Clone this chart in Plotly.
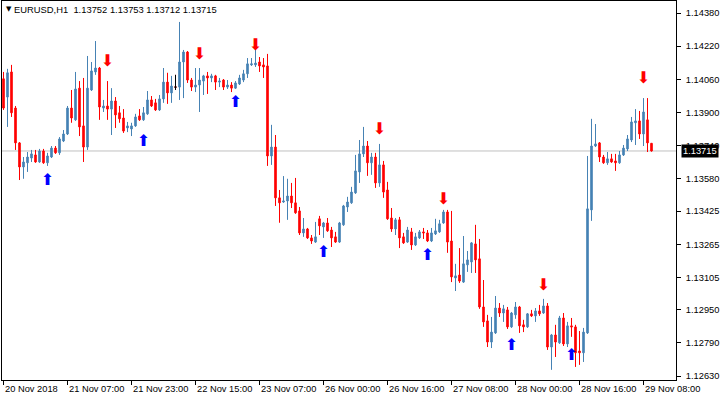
import plotly.graph_objects as go

# ---- data (EURUSD H1) ----
opens = [1.14063,1.13975,1.14096,1.13922,1.13754,1.13638,1.13658,1.13681,1.13696,1.13662,
         1.13715,1.13658,1.13686,1.13729,1.13706,1.13763,1.13797,1.13922,1.13865,1.14018,
         1.13836,1.13734,1.14009,1.14096,1.14115,1.13922,1.13932,1.13917,1.13956,1.13899,
         1.13874,1.13826,1.13821,1.13836,1.13884,1.13865,1.13894,1.13961,1.13947,1.13913,
         1.13966,1.14047,1.13995,1.14023,1.14023,1.14144,1.14192,1.14057,1.14023,1.14033,
         1.14052,1.14077,1.14067,1.14077,1.14047,1.14057,1.14023,1.14033,1.14018,1.14038,
         1.14057,1.14087,1.14130,1.14130,1.14144,1.14130,1.14125,1.13691,1.13734,1.13489,
         1.13469,1.13474,1.13498,1.13465,1.13426,1.13320,1.13339,1.13296,1.13276,1.13388,
         1.13349,1.13368,1.13334,1.13301,1.13276,1.13359,1.13445,1.13465,1.13513,1.13614,
         1.13701,1.13739,1.13658,1.13686,1.13561,1.13648,1.13527,1.13392,1.13339,1.13383,
         1.13301,1.13276,1.13325,1.13262,1.13296,1.13325,1.13320,1.13281,1.13315,1.13325,
         1.13368,1.13421,1.13281,1.13103,1.13117,1.13083,1.13166,1.13180,1.13267,1.13195,
         1.12963,1.12896,1.12794,1.12838,1.12958,1.12934,1.12949,1.12867,1.12925,1.12963,
         1.12877,1.12867,1.12930,1.12920,1.12944,1.12934,1.12968,1.12770,1.12828,1.12790,
         1.12910,1.12785,1.12872,1.12867,1.12751,1.12742,1.12838,1.13431,1.13739,1.13754,
         1.13686,1.13658,1.13677,1.13667,1.13658,1.13696,1.13725,1.13768,1.13851,1.13860,
         1.13797,1.13865,1.13752]
highs = [1.14096,1.14111,1.14130,1.13932,1.13758,1.13686,1.13710,1.13720,1.13720,1.13725,
         1.13725,1.13706,1.13739,1.13739,1.13782,1.13816,1.13932,1.14009,1.14096,1.14052,
         1.14067,1.14173,1.14144,1.14245,1.14120,1.13961,1.14052,1.14018,1.13975,1.13932,
         1.13917,1.13855,1.13851,1.13894,1.13917,1.13927,1.14004,1.13980,1.13966,1.13985,
         1.14115,1.14092,1.14077,1.14082,1.14337,1.14202,1.14197,1.14067,1.14115,1.14115,
         1.14082,1.14096,1.14087,1.14082,1.14067,1.14062,1.14057,1.14047,1.14052,1.14082,
         1.14106,1.14163,1.14163,1.14212,1.14168,1.14163,1.14183,1.13841,1.13792,1.13527,
         1.13594,1.13581,1.13561,1.13585,1.13445,1.13392,1.13344,1.13310,1.13373,1.13402,
         1.13373,1.13392,1.13349,1.13325,1.13373,1.13455,1.13494,1.13542,1.13696,1.13768,
         1.13831,1.13763,1.13706,1.13706,1.13749,1.13667,1.13566,1.13440,1.13392,1.13397,
         1.13320,1.13349,1.13344,1.13320,1.13334,1.13344,1.13334,1.13344,1.13388,1.13383,
         1.13431,1.13431,1.13426,1.13171,1.13247,1.13305,1.13233,1.13276,1.13359,1.13291,
         1.13093,1.12925,1.12915,1.13016,1.12982,1.12973,1.12963,1.12939,1.12987,1.12968,
         1.12901,1.12934,1.12949,1.12958,1.12973,1.13002,1.12982,1.12833,1.12877,1.12920,
         1.12934,1.12891,1.12910,1.12877,1.12847,1.12862,1.13691,1.13870,1.13845,1.13758,
         1.13696,1.13710,1.13701,1.13701,1.13715,1.13744,1.13792,1.13879,1.13917,1.13908,
         1.13970,1.13970,1.13753]
lows = [1.13913,1.13831,1.13879,1.13720,1.13575,1.13581,1.13614,1.13662,1.13658,1.13658,
        1.13653,1.13643,1.13681,1.13701,1.13696,1.13758,1.13792,1.13851,1.13860,1.13787,
        1.13662,1.13720,1.14004,1.14082,1.13865,1.13903,1.13865,1.13792,1.13826,1.13851,
        1.13802,1.13806,1.13787,1.13831,1.13860,1.13860,1.13889,1.13927,1.13908,1.13908,
        1.13947,1.13942,1.13947,1.14009,1.13961,1.13970,1.14043,1.14004,1.13999,1.13903,
        1.13985,1.13990,1.14047,1.14009,1.14023,1.14009,1.14014,1.13999,1.14014,1.14033,
        1.14047,1.14067,1.14125,1.14120,1.14096,1.14067,1.13643,1.13648,1.13450,1.13369,
        1.13465,1.13383,1.13440,1.13412,1.13310,1.13301,1.13291,1.13267,1.13272,1.13310,
        1.13296,1.13325,1.13252,1.13272,1.13272,1.13354,1.13421,1.13460,1.13508,1.13561,
        1.13686,1.13595,1.13600,1.13537,1.13542,1.13489,1.13383,1.13325,1.13310,1.13247,
        1.13267,1.13272,1.13238,1.13257,1.13291,1.13291,1.13276,1.13276,1.13310,1.13320,
        1.13364,1.13224,1.13083,1.13040,1.13079,1.13079,1.13132,1.13127,1.13127,1.12954,
        1.12867,1.12770,1.12765,1.12833,1.12915,1.12891,1.12857,1.12862,1.12906,1.12838,
        1.12842,1.12862,1.12915,1.12891,1.12920,1.12930,1.12756,1.12660,1.12722,1.12785,
        1.12775,1.12770,1.12819,1.12674,1.12684,1.12698,1.12833,1.13378,1.13734,1.13662,
        1.13653,1.13648,1.13658,1.13619,1.13653,1.13691,1.13715,1.13758,1.13744,1.13773,
        1.13739,1.13710,1.13712]
closes = [1.13922,1.14092,1.13899,1.13754,1.13638,1.13662,1.13686,1.13701,1.13662,1.13715,
          1.13658,1.13691,1.13729,1.13706,1.13773,1.13797,1.13922,1.13874,1.14014,1.13831,
          1.13734,1.14018,1.14101,1.14115,1.13927,1.13932,1.13917,1.13956,1.13889,1.13870,
          1.13811,1.13836,1.13836,1.13879,1.13865,1.13899,1.13961,1.13932,1.13913,1.13966,
          1.14047,1.13995,1.14028,1.14023,1.14144,1.14192,1.14057,1.14023,1.14033,1.14057,
          1.14077,1.14067,1.14077,1.14047,1.14052,1.14023,1.14033,1.14018,1.14043,1.14067,
          1.14087,1.14135,1.14135,1.14139,1.14125,1.14120,1.13691,1.13734,1.13489,1.13465,
          1.13474,1.13498,1.13465,1.13417,1.13320,1.13339,1.13296,1.13281,1.13301,1.13354,
          1.13368,1.13330,1.13296,1.13276,1.13368,1.13450,1.13469,1.13517,1.13619,1.13701,
          1.13739,1.13658,1.13686,1.13561,1.13648,1.13517,1.13388,1.13339,1.13383,1.13296,
          1.13272,1.13334,1.13262,1.13301,1.13325,1.13320,1.13281,1.13320,1.13330,1.13364,
          1.13421,1.13276,1.13108,1.13113,1.13088,1.13171,1.13190,1.13272,1.13190,1.12963,
          1.12891,1.12794,1.12842,1.12958,1.12934,1.12954,1.12867,1.12934,1.12963,1.12872,
          1.12867,1.12930,1.12920,1.12944,1.12930,1.12968,1.12770,1.12828,1.12794,1.12910,
          1.12785,1.12872,1.12867,1.12742,1.12742,1.12842,1.13436,1.13739,1.13749,1.13686,
          1.13658,1.13677,1.13662,1.13658,1.13696,1.13729,1.13773,1.13855,1.13860,1.13797,
          1.13903,1.13754,1.13715]
bars = list(range(len(closes)))
doji_bars = [43]

sell_bars = [26, 49, 63, 94, 110, 135, 160]
sell_prices = [1.14144, 1.14178, 1.14221, 1.13816, 1.13479, 1.13064, 1.14062]
buy_bars = [11, 35, 58, 80, 106, 127, 142]
buy_prices = [1.13570, 1.13758, 1.13947, 1.13224, 1.13209, 1.12775, 1.12727]

tick_bars = [0, 16, 32, 48, 64, 80, 96, 112, 128, 144, 160]
tick_labels = ["20 Nov 2018", "21 Nov 07:00", "21 Nov 23:00", "22 Nov 15:00", "23 Nov 07:00",
               "26 Nov 00:00", "26 Nov 16:00", "27 Nov 08:00", "28 Nov 00:00", "28 Nov 16:00",
               "29 Nov 08:00"]
price_ticks = [1.14380, 1.14220, 1.14060, 1.13900, 1.13740, 1.13580, 1.13425, 1.13265,
               1.13105, 1.12950, 1.12790, 1.12630]
price_tick_text = ["%.5f" % v for v in price_ticks]

symbol = "EURUSD,H1"
last_price = closes[-1]
title_text = "%s  %.5f %.5f %.5f %.5f" % (symbol, opens[-1], highs[-1], lows[-1], closes[-1])

BULL = "#4682B4"
BEAR = "#FF0000"
FONT = "Liberation Sans, Arial, sans-serif"

fig = go.Figure()
fig.add_trace(go.Candlestick(
    x=bars, open=opens, high=highs, low=lows, close=closes,
    increasing=dict(line=dict(color=BULL, width=1), fillcolor=BULL),
    decreasing=dict(line=dict(color=BEAR, width=1), fillcolor=BEAR),
    whiskerwidth=0, hoverinfo="skip", showlegend=False))
fig.add_trace(go.Candlestick(
    x=doji_bars, open=[opens[i] for i in doji_bars], high=[highs[i] for i in doji_bars],
    low=[lows[i] for i in doji_bars], close=[closes[i] for i in doji_bars],
    increasing=dict(line=dict(color="black", width=1), fillcolor="black"),
    decreasing=dict(line=dict(color="black", width=1), fillcolor="black"),
    whiskerwidth=0, hoverinfo="skip", showlegend=False))

fig.add_trace(go.Scatter(
    x=sell_bars, y=sell_prices, mode="text", text=["⬇"] * len(sell_bars),
    textfont=dict(color=BEAR, size=16, family="DejaVu Sans"),
    textposition="middle center", hoverinfo="skip", showlegend=False))
fig.add_trace(go.Scatter(
    x=buy_bars, y=buy_prices, mode="text", text=["⬆"] * len(buy_bars),
    textfont=dict(color="#0000FF", size=16, family="DejaVu Sans"),
    textposition="middle center", hoverinfo="skip", showlegend=False))

# current bid line
fig.add_shape(type="line", xref="paper", x0=0, x1=1, yref="y", y0=last_price, y1=last_price,
              line=dict(color="#C0C0C0", width=1), layer="below")

annotations = []
for b, t in zip(tick_bars, tick_labels):
    annotations.append(dict(x=b, y=0, xref="x", yref="paper", text=t, showarrow=False,
                            xanchor="left", yanchor="top", yshift=-2, xshift=-1,
                            font=dict(family=FONT, size=9.3, color="black")))
annotations.append(dict(x=1, y=last_price, xref="paper", yref="y", text="%.5f" % last_price,
                        showarrow=False, xanchor="left", yanchor="middle", xshift=5,
                        bgcolor="black", borderpad=1,
                        font=dict(family=FONT, size=9.3, color="white")))
annotations.append(dict(x=0, y=1, xref="paper", yref="paper", text="▼", showarrow=False,
                        xanchor="left", yanchor="top", xshift=2, yshift=-2,
                        font=dict(family="DejaVu Sans", size=7, color="black")))
annotations.append(dict(x=0, y=1, xref="paper", yref="paper", text=title_text, showarrow=False,
                        xanchor="left", yanchor="top", xshift=10, yshift=-1,
                        font=dict(family=FONT, size=9.4, color="black")))

fig.update_layout(
    width=720, height=400,
    margin=dict(l=2, r=44, t=1, b=20),
    paper_bgcolor="white", plot_bgcolor="white",
    boxgap=0.45,
    annotations=annotations,
    xaxis=dict(range=[-0.375, 168.125], rangeslider=dict(visible=False),
               showgrid=False, zeroline=False, showline=True, mirror=True,
               linecolor="black", linewidth=1,
               tickmode="array", tickvals=tick_bars, ticktext=[""] * len(tick_bars),
               ticks="outside", ticklen=4, tickcolor="black", tickwidth=1),
    yaxis=dict(range=[1.12611, 1.14438], side="right",
               showgrid=False, zeroline=False, showline=True, mirror=True,
               linecolor="black", linewidth=1,
               tickmode="array", tickvals=price_ticks, ticktext=price_tick_text,
               ticks="outside", ticklen=4, tickcolor="black", tickwidth=1,
               ticklabelstandoff=3,
               tickfont=dict(family=FONT, size=9.3, color="black")),
)

fig.write_html("out.html", config={"displayModeBar": False},
               post_script="document.body.style.margin='0';document.body.style.overflow='hidden';")
